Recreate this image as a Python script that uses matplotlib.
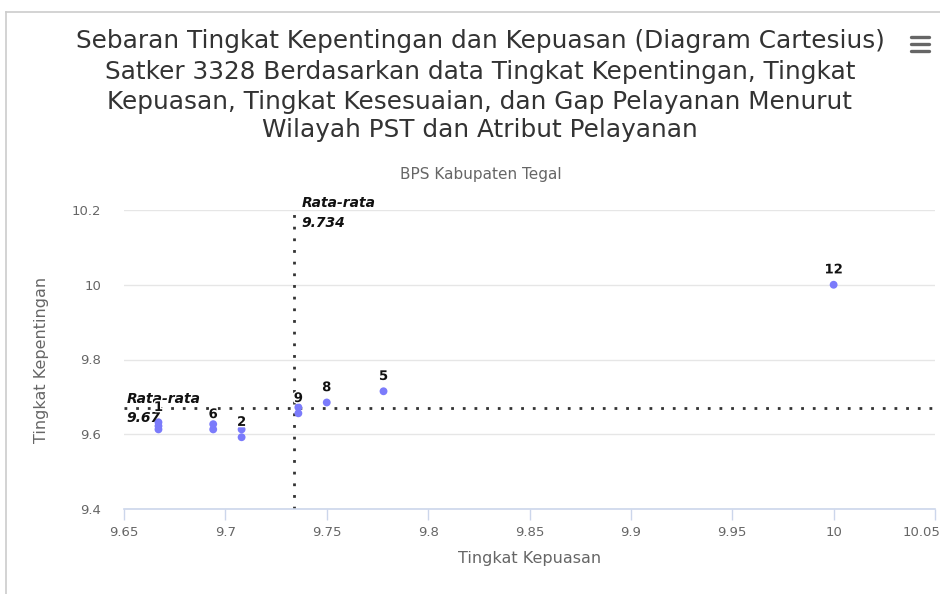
import matplotlib
matplotlib.use("Agg")
import matplotlib.pyplot as plt
import matplotlib.patheffects as pe
import matplotlib.transforms as mtrans
from matplotlib.lines import Line2D

# ---- data ----
names = ["1", "7", "3", "4", "6", "11", "2", "10", "9", "8", "5", "12"]
shown = ["1", "6", "2", "9", "8", "5", "12"]
kepuasan = [9.667, 9.667, 9.667, 9.694, 9.694, 9.708, 9.708, 9.736, 9.736, 9.750, 9.778, 10.000]
kepentingan = [9.632, 9.622, 9.613, 9.627, 9.613, 9.613, 9.592, 9.672, 9.656, 9.685, 9.715, 10.000]
mean_x = 9.734
mean_y = 9.67
x_ticks = [9.65, 9.7, 9.75, 9.8, 9.85, 9.9, 9.95, 10.0, 10.05]
x_tick_labels = ["9.65", "9.7", "9.75", "9.8", "9.85", "9.9", "9.95", "10", "10.05"]
y_ticks = [9.4, 9.6, 9.8, 10.0, 10.2]
y_tick_labels = ["9.4", "9.6", "9.8", "10", "10.2"]

title_lines = ["Sebaran Tingkat Kepentingan dan Kepuasan (Diagram Cartesius)",
               "Satker 3328 Berdasarkan data Tingkat Kepentingan, Tingkat",
               "Kepuasan, Tingkat Kesesuaian, dan Gap Pelayanan Menurut",
               "Wilayah PST dan Atribut Pelayanan"]
subtitle = "BPS Kabupaten Tegal"

plt.rcParams['font.family'] = ['DejaVu Sans']

W, H = 940, 594
fig = plt.figure(figsize=(W / 100, H / 100), dpi=100)

# container borders
fig.add_artist(Line2D([6 / W, 1], [1 - 12 / H, 1 - 12 / H], color="#cccccc", lw=1.2))
fig.add_artist(Line2D([6 / W, 6 / W], [0, 1 - 12 / H], color="#cccccc", lw=1.2))

# hamburger menu
for yy in (37, 44, 51):
    fig.add_artist(Line2D([911 / W, 929 / W], [1 - yy / H] * 2, color="#666666", lw=2.4,
                          solid_capstyle="round"))

left, right, top, bottom = 124, 935, 210, 509
ax = fig.add_axes([left / W, 1 - bottom / H, (right - left) / W, (bottom - top) / H])

ax.set_xlim(9.65, 10.05)
ax.set_ylim(9.4, 10.2)

ax.set_xticks(x_ticks)
ax.set_xticklabels(x_tick_labels)
ax.set_yticks(y_ticks)
ax.set_yticklabels(y_tick_labels)

ax.tick_params(axis="x", length=8, width=1, color="#ccd6eb", labelsize=9.5,
               labelcolor="#666666", pad=4)
ax.tick_params(axis="y", length=0, labelsize=9.5, labelcolor="#666666", pad=16.5)
xt = ax.get_xticklabels()
xt[-1].set_horizontalalignment("right")
xt[-1].set_transform(xt[-1].get_transform() + mtrans.ScaledTranslation(4 / 72, 0, fig.dpi_scale_trans))

for s in ("top", "right", "left"):
    ax.spines[s].set_visible(False)
ax.spines["bottom"].set_color("#ccd6eb")
ax.spines["bottom"].set_linewidth(1.2)

ax.yaxis.grid(True, color="#e6e6e6", lw=1)
ax.set_axisbelow(True)

# mean lines
ax.axvline(mean_x, color="#333333", lw=2, ls=(0, (1, 3.2)), zorder=2)
ax.axhline(mean_y, color="#333333", lw=2, ls=(0, (1, 3.2)), zorder=2)

ax.annotate(f"Rata-rata\n{mean_x:.3f}", xy=(mean_x, 10.2), xytext=(5, 10),
            textcoords="offset points", ha="left", va="top", style="italic",
            fontweight="bold", fontsize=10, color="#111111", linespacing=1.55)
ax.annotate(f"Rata-rata\n{mean_y:.2f}", xy=(9.65, mean_y), xytext=(2, 0),
            textcoords="offset points", ha="left", va="center", style="italic",
            fontweight="bold", fontsize=10, color="#111111", linespacing=1.45, zorder=5)

ax.scatter(kepuasan, kepentingan, s=32, color="#7b7bfb", edgecolors="none", zorder=4)

for lab, xv, yv in zip(names, kepuasan, kepentingan):
    if lab not in shown:
        continue
    ax.annotate(lab, xy=(xv, yv), xytext=(0, 6), textcoords="offset points",
                ha="center", va="bottom", fontsize=9.5, fontweight="bold",
                color="#111111", zorder=6,
                path_effects=[pe.withStroke(linewidth=2, foreground="white")])

ax.set_xlabel("Tingkat Kepuasan", fontsize=11.5, color="#666666", labelpad=9)
ax.set_ylabel("Tingkat Kepentingan", fontsize=11.5, color="#666666", labelpad=16)

for yy, line in zip((41, 72, 102, 130), title_lines):
    fig.text(480 / W, 1 - yy / H, line, ha="center", va="center", fontsize=17.8,
             color="#333333")
fig.text(481 / W, 1 - 175 / H, subtitle, ha="center", va="center", fontsize=11,
         color="#666666")

fig.savefig("out.png", dpi=100)
